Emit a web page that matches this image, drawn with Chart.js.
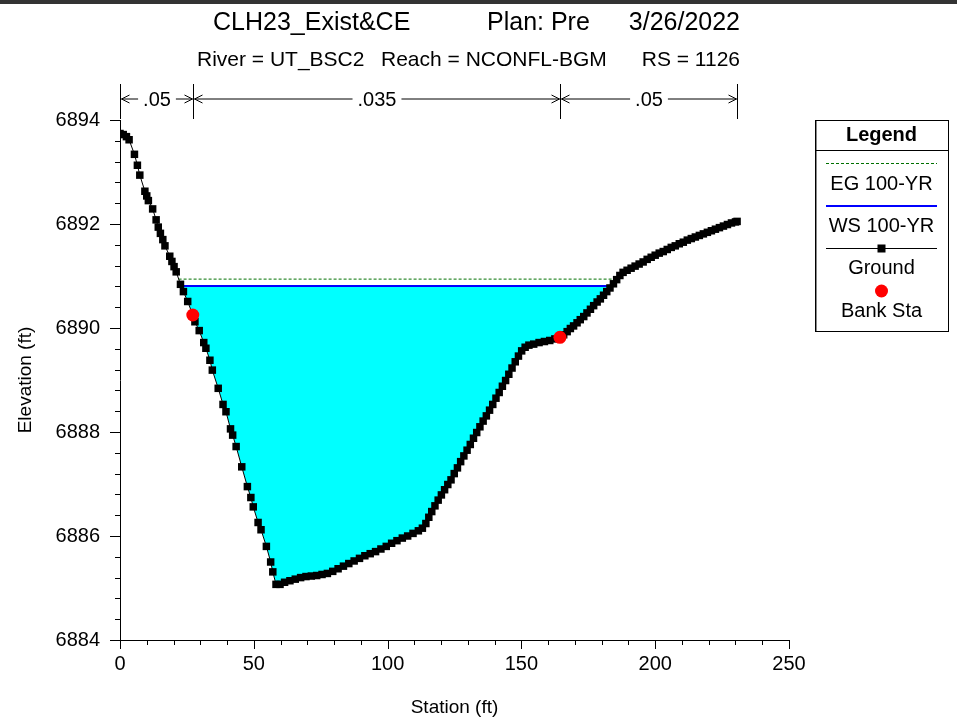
<!DOCTYPE html>
<html>
<head>
<meta charset="utf-8">
<title>Cross Section RS 1126</title>
<script src="https://cdn.jsdelivr.net/npm/chart.js@4.4.0/dist/chart.umd.min.js"></script>
<style>
  html, body { margin: 0; padding: 0; background: #fff; }
  #wrap { width: 957px; height: 721px; }
</style>
</head>
<body>
<div id="wrap"><canvas id="xs" width="957" height="721"></canvas></div>
<script>
// ground survey points (station ft, elevation ft)
const groundSta = [0, 1.2, 2.4, 3.4, 5.4, 6.5, 7.4, 9.3, 10.0, 10.6, 12.2, 13.5, 14.3, 15.1, 16.0, 16.8,
  18.6, 19.4, 20.2, 21.0, 22.6, 23.7, 25.3, 27.2, 28.0, 29.6, 31.3, 32.1, 33.6, 34.5, 36.7, 38.5,
  39.6, 41.3, 42.1, 43.4, 45.5, 47.6, 48.9, 49.8, 51.6, 52.7, 54.7, 56.3, 57.1, 58.3, 59.8, 61.5,
  63.5, 65.5, 67.5, 69.5, 71.5, 73.5, 75.5, 77.5, 79.5, 81.5, 83.5, 85.5, 87.5, 89.5, 91.5, 93.5,
  95.5, 97.5, 99.5, 101.5, 103.5, 105.5, 107.5, 109.5, 111.5, 113.0, 114.3, 115.4, 116.5, 117.7,
  118.9, 120.1, 121.3, 122.5, 123.7, 124.9, 126.1, 127.3, 128.5, 129.7, 130.9, 132.1, 133.3, 134.5,
  135.7, 136.9, 138.1, 139.3, 140.5, 141.7, 142.9, 144.1, 145.3, 146.5, 147.7, 148.9, 150.1, 151.4,
  152.8, 154.6, 156.6, 158.6, 160.6, 162.5, 164.4, 165.8, 167.1, 168.3, 169.5, 170.8, 172.0, 173.3,
  174.5, 175.8, 177.0, 178.3, 179.5, 180.7, 181.9, 183.1, 184.4, 185.6, 186.8, 188.0, 189.5, 191.0,
  192.5, 194.0, 195.5, 197.0, 198.5, 200.0, 201.5, 203.0, 204.5, 206.0, 207.5, 209.0, 210.5, 212.0,
  213.5, 215.0, 216.5, 218.0, 219.5, 221.0, 222.5, 224.0, 225.5, 227.0, 228.5, 230.0, 230.6];
const groundElev = [6893.74, 6893.72, 6893.68, 6893.62, 6893.34, 6893.13, 6892.94, 6892.63, 6892.54, 6892.45, 6892.29, 6892.08, 6891.94, 6891.82, 6891.70, 6891.58,
  6891.38, 6891.28, 6891.18, 6891.08, 6890.84, 6890.70, 6890.51, 6890.25, 6890.12, 6889.95, 6889.72, 6889.61, 6889.38, 6889.19, 6888.84, 6888.53,
  6888.39, 6888.06, 6887.94, 6887.72, 6887.33, 6886.95, 6886.74, 6886.56, 6886.26, 6886.12, 6885.80, 6885.50, 6885.31, 6885.07, 6885.07, 6885.11,
  6885.14, 6885.17, 6885.20, 6885.22, 6885.23, 6885.24, 6885.26, 6885.28, 6885.32, 6885.37, 6885.42, 6885.47, 6885.52, 6885.57, 6885.62, 6885.66,
  6885.70, 6885.75, 6885.80, 6885.86, 6885.91, 6885.96, 6886.00, 6886.05, 6886.10, 6886.15, 6886.24, 6886.36, 6886.47, 6886.58,
  6886.69, 6886.79, 6886.89, 6886.99, 6887.08, 6887.20, 6887.31, 6887.43, 6887.54, 6887.65, 6887.76, 6887.88, 6887.99, 6888.10,
  6888.21, 6888.31, 6888.42, 6888.53, 6888.65, 6888.76, 6888.88, 6888.99, 6889.11, 6889.23, 6889.35, 6889.46, 6889.56, 6889.63,
  6889.67, 6889.69, 6889.72, 6889.74, 6889.76, 6889.79, 6889.82, 6889.87, 6889.93, 6889.99, 6890.04, 6890.10, 6890.16, 6890.22,
  6890.29, 6890.36, 6890.43, 6890.50, 6890.56, 6890.63, 6890.70, 6890.77, 6890.85, 6890.93, 6891.01, 6891.07, 6891.11, 6891.15,
  6891.19, 6891.23, 6891.27, 6891.32, 6891.36, 6891.40, 6891.44, 6891.47, 6891.51, 6891.55, 6891.58, 6891.62, 6891.65, 6891.69,
  6891.72, 6891.75, 6891.78, 6891.81, 6891.84, 6891.87, 6891.90, 6891.93, 6891.96, 6891.99, 6892.02, 6892.04, 6892.05];

// bank stations
const bankSta = [27.2, 164.4];
const bankElev = [6890.25, 6889.82];

// 100-yr water surface and energy grade (ends where they meet the ground)
const wsSta = [22.8, 183.7];
const wsElev = [6890.81, 6890.81];
const egSta = [21.9, 185.8];
const egElev = [6890.94, 6890.94];

// manning's n breaks
const nSta = [0, 27.2, 164.4, 230.6];
const nLabels = ['.05', '.035', '.05'];

// axis ticks
const xMajor = [0, 50, 100, 150, 200, 250];
const yMajor = [6884, 6886, 6888, 6890, 6892, 6894];

const FONT = "'Liberation Sans', Arial, sans-serif";

const pts = (xs, ys) => xs.map((x, i) => ({ x: x, y: ys[i] }));

const topBar = {
  id: 'topBar',
  afterDraw(chart) {
    const ctx = chart.ctx;
    ctx.save();
    ctx.fillStyle = '#333';
    ctx.fillRect(0, 0, chart.width, 4);
    ctx.restore();
  }
};

const headings = {
  id: 'headings',
  afterDraw(chart) {
    const ctx = chart.ctx;
    ctx.save();
    ctx.fillStyle = '#000';
    ctx.textBaseline = 'middle';
    ctx.font = '25px ' + FONT;
    ctx.textAlign = 'left';
    ctx.fillText('CLH23_Exist&CE', 213, 23);
    ctx.fillText('Plan: Pre', 487, 23);
    ctx.textAlign = 'right';
    ctx.fillText('3/26/2022', 740, 23);
    ctx.font = '21px ' + FONT;
    ctx.textAlign = 'left';
    ctx.fillText('River = UT_BSC2', 197, 60);
    ctx.fillText('Reach = NCONFL-BGM', 381, 60);
    ctx.textAlign = 'right';
    ctx.fillText('RS = 1126', 740, 60);
    ctx.restore();
  }
};

// little brackets above the plot showing the n value of each reach
const nBrackets = {
  id: 'nBrackets',
  afterDraw(chart) {
    const ctx = chart.ctx, xs = chart.scales.x;
    const y = 99;
    ctx.save();
    ctx.strokeStyle = '#000';
    ctx.fillStyle = '#000';
    ctx.lineWidth = 1;
    ctx.font = '20px ' + FONT;
    ctx.textAlign = 'center';
    ctx.textBaseline = 'middle';
    const px = nSta.map(s => Math.round(xs.getPixelForValue(s)) + 0.5);
    ctx.beginPath();
    px.forEach(p => { ctx.moveTo(p, 84); ctx.lineTo(p, 119); });
    ctx.stroke();
    for (let i = 0; i < nLabels.length; i++) {
      const a = px[i], b = px[i + 1], mid = (a + b) / 2;
      const half = ctx.measureText(nLabels[i]).width / 2 + 5;
      ctx.fillText(nLabels[i], mid, y + 1);
      ctx.beginPath();
      ctx.moveTo(a + 1, y); ctx.lineTo(mid - half, y);
      ctx.moveTo(mid + half, y); ctx.lineTo(b - 1, y);
      // arrow heads
      ctx.moveTo(a + 9, y - 4); ctx.lineTo(a + 1, y); ctx.lineTo(a + 9, y + 4);
      ctx.moveTo(b - 9, y - 4); ctx.lineTo(b - 1, y); ctx.lineTo(b - 9, y + 4);
      ctx.stroke();
    }
    ctx.restore();
  }
};

// major and minor tick marks pointing out of the plot
const tickMarks = {
  id: 'tickMarks',
  afterDraw(chart) {
    const ctx = chart.ctx, xs = chart.scales.x, ys = chart.scales.y, a = chart.chartArea;
    ctx.save();
    ctx.strokeStyle = '#000';
    ctx.lineWidth = 1;
    ctx.beginPath();
    for (let i = 0; i <= 25; i++) {
      const p = Math.round(xs.getPixelForValue(i * 10)) + 0.5;
      ctx.moveTo(p, a.bottom);
      ctx.lineTo(p, a.bottom + (i % 5 === 0 ? 9 : 5));
    }
    for (let i = 0; i <= 25; i++) {
      const p = Math.round(ys.getPixelForValue(6884 + i * 0.4)) + 0.5;
      ctx.moveTo(a.left, p);
      ctx.lineTo(a.left - (i % 5 === 0 ? 10 : 5), p);
    }
    ctx.stroke();
    ctx.restore();
  }
};

const legendBox = {
  id: 'legendBox',
  afterDraw(chart) {
    const ctx = chart.ctx;
    const ds = chart.data.datasets;
    const L = 815, R = 948, T = 120, B = 331, cx = (L + R) / 2;
    const s0 = 826, s1 = 937;
    ctx.save();
    ctx.fillStyle = '#fff';
    ctx.fillRect(L, T, R - L, B - T);
    ctx.strokeStyle = '#000';
    ctx.lineWidth = 1;
    ctx.strokeRect(L + 0.5, T + 0.5, R - L, B - T);
    ctx.strokeStyle = '#888';
    ctx.beginPath(); ctx.moveTo(L + 1.5, T + 1); ctx.lineTo(L + 1.5, B); ctx.stroke();
    ctx.strokeStyle = '#000';
    ctx.beginPath(); ctx.moveTo(L, 150.5); ctx.lineTo(R, 150.5); ctx.stroke();

    ctx.fillStyle = '#000';
    ctx.textAlign = 'center';
    ctx.textBaseline = 'middle';
    ctx.font = 'bold 20px ' + FONT;
    ctx.fillText('Legend', cx, 135);
    ctx.font = '20px ' + FONT;

    // EG
    ctx.strokeStyle = ds[0].borderColor;
    ctx.setLineDash(ds[0].borderDash);
    ctx.beginPath(); ctx.moveTo(s0, 163.5); ctx.lineTo(s1, 163.5); ctx.stroke();
    ctx.setLineDash([]);
    ctx.fillText(ds[0].label, cx, 184);
    // WS
    ctx.strokeStyle = ds[1].borderColor;
    ctx.lineWidth = ds[1].borderWidth;
    ctx.beginPath(); ctx.moveTo(s0, 206); ctx.lineTo(s1, 206); ctx.stroke();
    ctx.fillText(ds[1].label, cx, 226);
    // Ground
    ctx.strokeStyle = ds[2].borderColor;
    ctx.lineWidth = 1;
    ctx.beginPath(); ctx.moveTo(s0, 248.5); ctx.lineTo(s1, 248.5); ctx.stroke();
    ctx.fillStyle = ds[2].pointBackgroundColor;
    ctx.fillRect(cx - 4, 244.5, 8, 8);
    ctx.fillStyle = '#000';
    ctx.fillText(ds[2].label, cx, 268);
    // Bank
    ctx.fillStyle = ds[3].pointBackgroundColor;
    ctx.beginPath(); ctx.arc(cx, 291, 6.5, 0, Math.PI * 2); ctx.fill();
    ctx.fillStyle = '#000';
    ctx.fillText(ds[3].label, cx, 311);
    ctx.restore();
  }
};

new Chart(document.getElementById('xs'), {
  type: 'scatter',
  data: {
    datasets: [
      {
        label: 'EG 100-YR',
        data: pts(egSta, egElev),
        showLine: true,
        borderColor: '#007000',
        borderWidth: 1,
        borderDash: [3, 2],
        pointRadius: 0,
        order: 3
      },
      {
        label: 'WS 100-YR',
        data: pts(wsSta, wsElev),
        showLine: true,
        borderColor: '#0000ff',
        borderWidth: 2,
        pointRadius: 0,
        fill: { target: 2, above: '#00ffff', below: 'rgba(0,0,0,0)' },
        order: 2
      },
      {
        label: 'Ground',
        data: pts(groundSta, groundElev),
        showLine: true,
        borderColor: '#000',
        borderWidth: 1,
        pointStyle: 'rect',
        pointRadius: 5.3,
        pointBorderWidth: 0,
        pointBackgroundColor: '#000',
        order: 1
      },
      {
        label: 'Bank Sta',
        data: pts(bankSta, bankElev),
        showLine: false,
        pointRadius: 6.5,
        pointBorderWidth: 0,
        pointBackgroundColor: '#ff0000',
        order: 0
      }
    ]
  },
  options: {
    responsive: false,
    animation: false,
    layout: { padding: { top: 120, right: 168, left: 0, bottom: 0 } },
    plugins: {
      legend: { display: false },
      tooltip: { enabled: false },
      title: { display: false }
    },
    scales: {
      x: {
        type: 'linear',
        min: 0,
        max: 250,
        afterFit: s => { s.height = 81; },
        afterBuildTicks: s => { s.ticks = xMajor.map(v => ({ value: v })); },
        grid: { display: false },
        border: { display: true, color: '#000', width: 1 },
        ticks: { color: '#000', padding: 4, maxRotation: 0, font: { family: FONT, size: 20 } },
        title: { display: true, text: 'Station (ft)', color: '#000', font: { family: FONT, size: 19 }, padding: { top: 0, bottom: 2 } }
      },
      y: {
        type: 'linear',
        min: 6884,
        max: 6894,
        afterFit: s => { s.width = 120; },
        afterBuildTicks: s => { s.ticks = yMajor.map(v => ({ value: v })); },
        grid: { display: false },
        border: { display: true, color: '#000', width: 1 },
        ticks: { color: '#000', padding: 12, font: { family: FONT, size: 20 }, callback: v => String(v) },
        title: { display: true, text: 'Elevation (ft)', color: '#000', font: { family: FONT, size: 19 }, padding: { top: 14, bottom: 0 } }
      }
    }
  },
  plugins: [topBar, headings, nBrackets, tickMarks, legendBox]
});
</script>
</body>
</html>
